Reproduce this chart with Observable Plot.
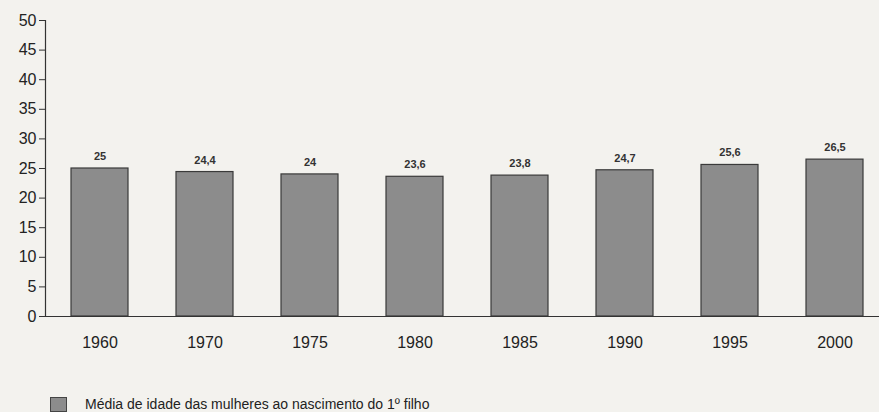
<!DOCTYPE html>
<html>
<head>
<meta charset="utf-8">
<script src="https://cdn.jsdelivr.net/npm/d3@7"></script>
<script src="https://cdn.jsdelivr.net/npm/@observablehq/plot@0.6"></script>
<style>
  html, body { margin: 0; padding: 0; background: #f3f2ee; }
  #chart { width: 879px; height: 412px; position: relative; overflow: hidden; font-family: "Liberation Sans", Arial, sans-serif; }
  #legend { position: absolute; left: 50px; top: 395px; height: 18px; display: flex; align-items: center; font-size: 14px; color: #222; }
  #legend .sw { width: 17px; height: 15px; background: #8c8c8c; border: 1px solid #444; margin-right: 18px; box-sizing: border-box; }
</style>
</head>
<body>
<div id="chart"></div>
<script>
const years = ["1960", "1970", "1975", "1980", "1985", "1990", "1995", "2000"];
const ages = [25, 24.4, 24, 23.6, 23.8, 24.7, 25.6, 26.5];
const yTicks = [0, 5, 10, 15, 20, 25, 30, 35, 40, 45, 50];
const legendLabel = "Média de idade das mulheres ao nascimento do 1º filho";

const data = years.map((y, i) => ({year: y, age: ages[i], label: String(ages[i]).replace(".", ",")}));

const plot = Plot.plot({
  width: 879,
  height: 392,
  marginTop: 20,
  marginLeft: 45,
  marginRight: 0,
  marginBottom: 76,
  style: {background: "transparent", fontFamily: "Liberation Sans, Arial, sans-serif", color: "#222"},
  x: {type: "band", domain: years, range: [49.5, 884.6], paddingInner: 0.457, paddingOuter: 0.2, label: null},
  y: {domain: [0, 50], label: null},
  marks: [
    Plot.barY(data, {x: "year", y: "age", fill: "#8c8c8c", stroke: "#3a3a3a", strokeWidth: 1.2}),
    Plot.text(data, {x: "year", y: "age", text: "label", dy: -12, fontSize: 11, fontWeight: "bold", fill: "#333"}),
    Plot.ruleY([0], {stroke: "#333", strokeWidth: 1.2}),
    Plot.frame({anchor: "left", stroke: "#333", strokeWidth: 1.2}),
    Plot.axisY({ticks: yTicks, tickSize: 6, tickPadding: 3, fontSize: 16, stroke: "#333", label: null}),
    Plot.axisX({tickSize: 0, tickPadding: 20, fontSize: 16, label: null})
  ]
});

const chart = document.getElementById("chart");
chart.appendChild(plot);
const legend = document.createElement("div");
legend.id = "legend";
legend.innerHTML = '<div class="sw"></div><span></span>';
legend.querySelector("span").textContent = legendLabel;
chart.appendChild(legend);
</script>
</body>
</html>
